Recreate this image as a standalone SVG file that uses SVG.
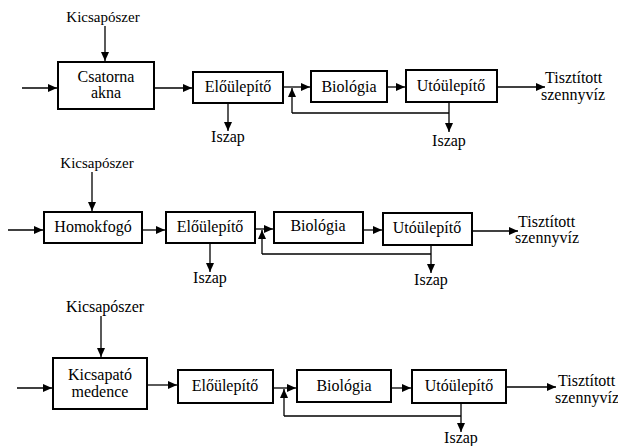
<svg xmlns="http://www.w3.org/2000/svg" width="618" height="446" viewBox="0 0 618 446">
<defs>
<marker id="ah" markerUnits="userSpaceOnUse" markerWidth="10" markerHeight="9" refX="9" refY="4" orient="auto">
<path d="M0,0 L9,4 L0,8 z" fill="#000"/>
</marker>
<style>
.box{fill:#fff;stroke:#000;stroke-width:2}
.ln{fill:none;stroke:#000;stroke-width:1.3}
.ar{fill:none;stroke:#000;stroke-width:1.3;marker-end:url(#ah)}
.c{text-anchor:middle}
</style>
</defs>
<rect width="618" height="446" fill="#fff"/>
<g font-family="'Liberation Serif', 'Times New Roman', 'DejaVu Serif', serif" font-size="16" fill="#000">
<!-- Section 1 -->
<g id="s1-kicsaposzer"><text class="c" x="103" y="22" font-size="15">Kicsapószer</text></g>
<g id="s1-csatorna"><rect class="box" x="58" y="62" width="96" height="47"/><text class="c" x="106" y="82">Csatorna</text><text class="c" x="106" y="98">akna</text></g>
<g id="s1-elo"><rect class="box" x="193" y="72" width="90" height="31"/><text class="c" x="238" y="92">Előülepítő</text></g>
<g id="s1-bio"><rect class="box" x="311" y="71" width="76" height="31"/><text class="c" x="349" y="92">Biológia</text></g>
<g id="s1-uto"><rect class="box" x="406" y="70" width="91" height="32"/><text class="c" x="451" y="91">Utóülepítő</text></g>
<g id="s1-iszap1"><text class="c" x="228" y="142">Iszap</text></g>
<g id="s1-iszap2"><text class="c" x="449" y="146">Iszap</text></g>
<g id="s1-out"><text x="545" y="83">Tisztított</text><text x="541" y="100">szennyvíz</text></g>

<!-- Section 2 -->
<g id="s2-kicsaposzer"><text class="c" x="97" y="168" font-size="15">Kicsapószer</text></g>
<g id="s2-homok"><rect class="box" x="44" y="212" width="98" height="31"/><text class="c" x="93" y="232">Homokfogó</text></g>
<g id="s2-elo"><rect class="box" x="166" y="212" width="89" height="31"/><text class="c" x="210" y="232">Előülepítő</text></g>
<g id="s2-bio"><rect class="box" x="274" y="212" width="89" height="31"/><text class="c" x="318" y="231">Biológia</text></g>
<g id="s2-uto"><rect class="box" x="383" y="213" width="89" height="32"/><text class="c" x="427" y="233">Utóülepítő</text></g>
<g id="s2-iszap1"><text class="c" x="210" y="283">Iszap</text></g>
<g id="s2-iszap2"><text class="c" x="431" y="285">Iszap</text></g>
<g id="s2-out"><text x="518" y="227">Tisztított</text><text x="515" y="243">szennyvíz</text></g>

<!-- Section 3 -->
<g id="s3-kicsaposzer"><text class="c" x="105" y="312">Kicsapószer</text></g>
<g id="s3-kicsapato"><rect class="box" x="53" y="358" width="94" height="51"/><text class="c" x="100" y="380">Kicsapató</text><text class="c" x="100" y="397">medence</text></g>
<g id="s3-elo"><rect class="box" x="178" y="370" width="95" height="33"/><text class="c" x="225" y="391">Előülepítő</text></g>
<g id="s3-bio"><rect class="box" x="297" y="370" width="94" height="32"/><text class="c" x="344" y="391">Biológia</text></g>
<g id="s3-uto"><rect class="box" x="412" y="370" width="94" height="33"/><text class="c" x="459" y="391">Utóülepítő</text></g>
<g id="s3-iszap"><text class="c" x="461" y="443">Iszap</text></g>
<g id="s3-out"><text x="558" y="386">Tisztított</text><text x="555" y="403">szennyvíz</text></g>
</g>

<g id="connectors">
<!-- S1 -->
<path class="ar" d="M105,26 V61"/>
<path class="ar" d="M22,88 H57"/>
<path class="ar" d="M154,88 H192"/>
<path class="ar" d="M283,87 H310"/>
<path class="ar" d="M387,87 H405"/>
<path class="ar" d="M497,87 H545"/>
<path class="ar" d="M228,103 V131"/>
<path class="ar" d="M449,102 V132"/>
<path class="ln" d="M449,113 H292"/>
<path class="ar" d="M292,113 V88"/>
<!-- S2 -->
<path class="ar" d="M92,172 V211"/>
<path class="ar" d="M8,230 H43"/>
<path class="ar" d="M142,230 H165"/>
<path class="ar" d="M255,229 H273"/>
<path class="ar" d="M363,230 H382"/>
<path class="ar" d="M472,231 H518"/>
<path class="ar" d="M210,243 V272"/>
<path class="ar" d="M431,245 V273"/>
<path class="ln" d="M431,254 H262"/>
<path class="ar" d="M262,254 V230"/>
<!-- S3 -->
<path class="ar" d="M101,316 V357"/>
<path class="ar" d="M17,388 H52"/>
<path class="ar" d="M147,385 H177"/>
<path class="ar" d="M273,388 H296"/>
<path class="ar" d="M391,388 H411"/>
<path class="ar" d="M506,387 H556"/>
<path class="ar" d="M461,403 V432"/>
<path class="ln" d="M461,416 H284"/>
<path class="ar" d="M284,416 V389"/>
</g>
</svg>
